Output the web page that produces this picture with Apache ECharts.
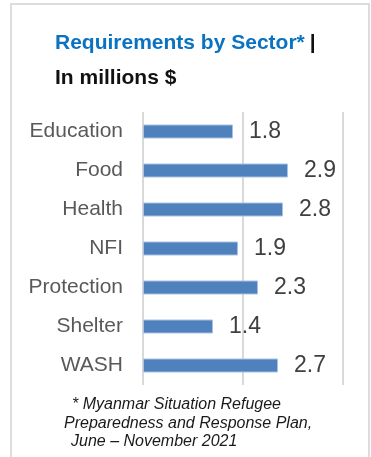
<!DOCTYPE html>
<html>
<head>
<meta charset="utf-8">
<script src="https://cdn.jsdelivr.net/npm/echarts@6/dist/echarts.min.js"></script>
<style>
html,body{margin:0;padding:0;background:#fff;}
#chart{width:371px;height:457px;}
</style>
</head>
<body>
<div id="chart"></div>
<script>
const categories = ['Education', 'Food', 'Health', 'NFI', 'Protection', 'Shelter', 'WASH'];
const values = [1.8, 2.9, 2.8, 1.9, 2.3, 1.4, 2.7];
const axisMin = 0;
const axisMax = 4;
const axisInterval = 2;
const titleMain = 'Requirements by Sector*';
const titleSub = 'In millions $';
const footnoteLines = ['* Myanmar Situation Refugee', 'Preparedness and Response Plan,', 'June \u2013 November 2021'];

const FONT = 'Arial, "Liberation Sans", sans-serif';
const footLeft = [72, 64, 71];
const footTop = [395.5, 414, 432.5];
const chart = echarts.init(document.getElementById('chart'), null, {renderer: 'canvas'});
chart.setOption({
  animation: false,
  backgroundColor: '#ffffff',
  title: [
    {
      left: 55, top: 32, padding: 0,
      text: '{a|' + titleMain + '} {b||}',
      textStyle: {
        rich: {
          a: {fontFamily: FONT, fontSize: 21, fontWeight: 'bold', color: '#0a73c1', lineHeight: 22},
          b: {fontFamily: FONT, fontSize: 21, fontWeight: 'bold', color: '#111111', lineHeight: 22}
        }
      }
    },
    {
      left: 55, top: 67, padding: 0,
      text: titleSub,
      textStyle: {fontFamily: FONT, fontSize: 21, fontWeight: 'bold', color: '#111111', lineHeight: 22}
    }
  ].concat(footnoteLines.map((t, i) => ({
      left: footLeft[i], top: footTop[i], padding: 0,
      text: t,
      textStyle: {fontFamily: FONT, fontSize: 16, fontStyle: 'italic', fontWeight: 'normal', color: '#1a1a1a', lineHeight: 18.5}
  }))),
  graphic: [
    {
      type: 'rect', silent: true, z: -1,
      shape: {x: 11, y: 4, width: 358, height: 470},
      style: {fill: 'none', stroke: '#dddddd', lineWidth: 2}
    }
  ],
  grid: {left: 143, right: 28, top: 112, bottom: 72, containLabel: false},
  xAxis: {
    type: 'value', min: axisMin, max: axisMax, interval: axisInterval,
    axisLabel: {show: false}, axisLine: {show: false}, axisTick: {show: false},
    splitLine: {show: true, lineStyle: {color: '#d9d9d9', width: 2}}
  },
  yAxis: {
    type: 'category', data: categories, inverse: true,
    axisLine: {show: false}, axisTick: {show: false},
    axisLabel: {fontFamily: FONT, fontSize: 21, color: '#595959', margin: 20}
  },
  series: [{
    type: 'bar', data: values, barWidth: 14,
    itemStyle: {color: '#4f81bd', borderColor: '#a9c1e2', borderWidth: 1},
    label: {show: true, position: 'right', distance: 16, fontFamily: FONT, fontSize: 23, color: '#404040',
      formatter: p => p.value.toFixed(1)}
  }]
});
</script>
</body>
</html>
